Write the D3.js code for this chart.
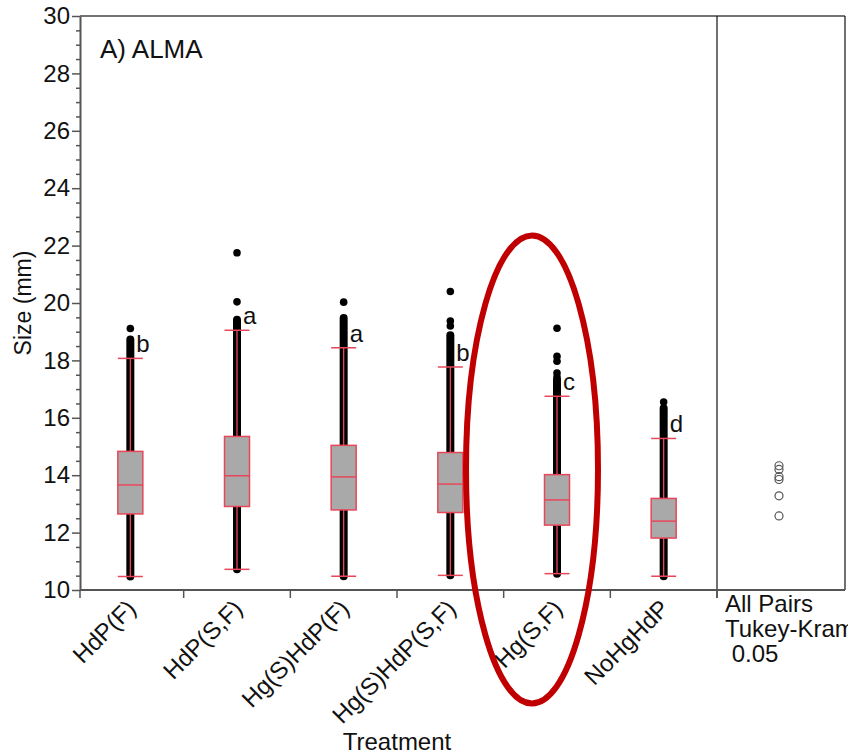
<!DOCTYPE html>
<html>
<head>
<meta charset="utf-8">
<script src="https://cdn.jsdelivr.net/npm/d3@7"></script>
<style>
  body { margin: 0; background: #fff; }
  svg { display: block; overflow: hidden; }
  text { font-family: "Liberation Sans", Arial, sans-serif; fill: #111; }
</style>
</head>
<body>
<div class="chart"></div>
<script>
// data
const categories = ["HdP(F)", "HdP(S,F)", "Hg(S)HdP(F)", "Hg(S)HdP(S,F)", "Hg(S,F)", "NoHgHdP"];
const whiskerLow  = [10.47, 10.72, 10.48, 10.51, 10.57, 10.48];
const q1          = [12.65, 12.91, 12.79, 12.70, 12.26, 11.81];
const median      = [13.66, 13.98, 13.94, 13.69, 13.14, 12.40];
const q3          = [14.83, 15.35, 15.04, 14.79, 14.02, 13.19];
const whiskerHigh = [18.07, 19.05, 18.44, 17.77, 16.75, 15.28];
// top of the dense run of raw points, then the separate dots above it
const pointsTop   = [18.73, 19.42, 19.48, 18.88, 17.32, 16.33];
const outliers    = [[19.11], [21.75, 20.04], [20.03], [20.40, 19.37, 19.20],
                     [19.12, 18.14, 17.97, 17.56, 17.42], [16.55]];
const letters     = ["b", "a", "a", "b", "c", "d"];
const groupMeans  = [13.85, 14.33, 14.20, 13.95, 13.28, 12.58];
const yTicks      = [10, 12, 14, 16, 18, 20, 22, 24, 26, 28, 30];

const width = 848, height = 755;
const plot = {left: 80, right: 717, top: 16, bottom: 590};
const sideRight = 845;

const svg = d3.select(".chart")
  .append("svg")
  .attr("width", width)
  .attr("height", height);

const y = d3.scaleLinear().domain([10, 30]).range([plot.bottom, plot.top]);
const x = d3.scaleBand().domain(categories).range([plot.left - 3, plot.right]);
const cx = c => x(c) + x.bandwidth() / 2;
const boxW = 25;

// frame lines
svg.append("line")
  .attr("x1", plot.left).attr("x2", sideRight)
  .attr("y1", plot.top).attr("y2", plot.top)
  .attr("stroke", "#444").attr("stroke-width", 1.5);
svg.append("line")
  .attr("x1", plot.right).attr("x2", plot.right)
  .attr("y1", plot.top).attr("y2", plot.bottom + 8)
  .attr("stroke", "#111").attr("stroke-width", 1.2);
svg.append("line")
  .attr("x1", sideRight).attr("x2", sideRight)
  .attr("y1", plot.top).attr("y2", plot.bottom)
  .attr("stroke", "#111").attr("stroke-width", 1.2);

// y axis: minor ticks then major ticks
const minorTicks = d3.range(10, 30.01, 0.5).filter(v => v % 2 !== 0);
svg.append("g")
  .attr("transform", `translate(${plot.left},0)`)
  .call(d3.axisLeft(y).tickValues(minorTicks).tickSize(4).tickFormat(""))
  .call(g => g.select(".domain").remove())
  .call(g => g.selectAll("line").attr("stroke", "#555").attr("stroke-width", 1.5));

const yAxis = svg.append("g")
  .attr("transform", `translate(${plot.left},0)`)
  .call(d3.axisLeft(y).tickValues(yTicks).tickSize(8).tickSizeOuter(0).tickPadding(2));
yAxis.select(".domain").attr("stroke", "#555").attr("stroke-width", 2);
yAxis.selectAll("line").attr("stroke", "#555").attr("stroke-width", 1.5);
yAxis.selectAll("text")
  .style("font-family", '"Liberation Sans", Arial, sans-serif')
  .style("font-size", "24px")
  .attr("fill", "#111");

// x axis line and category boundary ticks
svg.append("line")
  .attr("x1", plot.left).attr("x2", sideRight)
  .attr("y1", plot.bottom).attr("y2", plot.bottom)
  .attr("stroke", "#555").attr("stroke-width", 2);

const edges = categories.map(c => x(c)).slice(1).concat([plot.left, x.range()[1]]);
svg.append("g").selectAll("line")
  .data(edges)
  .enter()
  .append("line")
  .attr("x1", d => d).attr("x2", d => d)
  .attr("y1", plot.bottom).attr("y2", plot.bottom + 8)
  .attr("stroke", "#555").attr("stroke-width", 1.5);

svg.append("g").selectAll("text")
  .data(categories)
  .enter()
  .append("text")
  .attr("transform", d => `translate(${cx(d) + 7},${plot.bottom + 20}) rotate(-45)`)
  .attr("text-anchor", "end")
  .style("font-size", "24px")
  .text(d => d);

// boxes
const boxes = svg.append("g").selectAll("g")
  .data(categories.map((c, i) => ({c, i})))
  .enter()
  .append("g");

// dense column of raw points
boxes.append("line")
  .attr("x1", d => cx(d.c)).attr("x2", d => cx(d.c))
  .attr("y1", d => y(whiskerLow[d.i])).attr("y2", d => y(pointsTop[d.i]))
  .attr("stroke", "#000").attr("stroke-width", 8).attr("stroke-linecap", "round");

boxes.selectAll("circle")
  .data(d => outliers[d.i].map(v => ({c: d.c, v})))
  .enter()
  .append("circle")
  .attr("cx", d => cx(d.c))
  .attr("cy", d => y(d.v))
  .attr("r", 3.8)
  .attr("fill", "#000");

const red = "#e8475a";

// whisker line
boxes.append("line")
  .attr("x1", d => cx(d.c)).attr("x2", d => cx(d.c))
  .attr("y1", d => y(whiskerLow[d.i])).attr("y2", d => y(whiskerHigh[d.i]))
  .attr("stroke", red).attr("stroke-width", 1.3);

// whisker caps
boxes.append("line")
  .attr("x1", d => cx(d.c) - boxW / 2).attr("x2", d => cx(d.c) + boxW / 2)
  .attr("y1", d => y(whiskerHigh[d.i])).attr("y2", d => y(whiskerHigh[d.i]))
  .attr("stroke", red).attr("stroke-width", 1.5);
boxes.append("line")
  .attr("x1", d => cx(d.c) - boxW / 2).attr("x2", d => cx(d.c) + boxW / 2)
  .attr("y1", d => y(whiskerLow[d.i])).attr("y2", d => y(whiskerLow[d.i]))
  .attr("stroke", red).attr("stroke-width", 1.5);

boxes.append("rect")
  .attr("x", d => cx(d.c) - boxW / 2)
  .attr("width", boxW)
  .attr("y", d => y(q3[d.i]))
  .attr("height", d => y(q1[d.i]) - y(q3[d.i]))
  .attr("fill", "#a9a9a9")
  .attr("stroke", red).attr("stroke-width", 1.5);

boxes.append("line")
  .attr("x1", d => cx(d.c) - boxW / 2).attr("x2", d => cx(d.c) + boxW / 2)
  .attr("y1", d => y(median[d.i])).attr("y2", d => y(median[d.i]))
  .attr("stroke", red).attr("stroke-width", 1.5);

// significance letters
boxes.append("text")
  .attr("x", d => cx(d.c) + 6)
  .attr("y", d => y(whiskerHigh[d.i]) - 6)
  .style("font-size", "24px")
  .text(d => letters[d.i]);

// comparison circles panel
svg.append("g").selectAll("circle")
  .data(groupMeans)
  .enter()
  .append("circle")
  .attr("cx", (plot.right + sideRight) / 2 - 2)
  .attr("cy", d => y(d))
  .attr("r", 4)
  .attr("fill", "none")
  .attr("stroke", "#555")
  .attr("stroke-width", 1.2);

const note = svg.append("text")
  .attr("x", plot.right + 8)
  .attr("y", plot.bottom + 22)
  .style("font-size", "24px");
note.append("tspan").attr("x", plot.right + 8).text("All Pairs");
note.append("tspan").attr("x", plot.right + 8).attr("dy", 25).text("Tukey-Kramer");
note.append("tspan").attr("x", plot.right + 8).attr("dy", 25).text("\u00a00.05");

// titles
svg.append("text")
  .attr("x", 100).attr("y", 58)
  .style("font-size", "26px")
  .text("A) ALMA");

svg.append("text")
  .attr("transform", `translate(31,${(plot.top + plot.bottom) / 2}) rotate(-90)`)
  .attr("text-anchor", "middle")
  .style("font-size", "23px")
  .text("Size (mm)");

svg.append("text")
  .attr("x", 397).attr("y", 750)
  .attr("text-anchor", "middle")
  .style("font-size", "24px")
  .text("Treatment");

// red highlight ellipse round Hg(S,F)
svg.append("ellipse")
  .attr("cx", cx("Hg(S,F)") - 25)
  .attr("cy", y(14.2))
  .attr("rx", 66)
  .attr("ry", 234)
  .attr("fill", "none")
  .attr("stroke", "#c00000")
  .attr("stroke-width", 6);
</script>
</body>
</html>
